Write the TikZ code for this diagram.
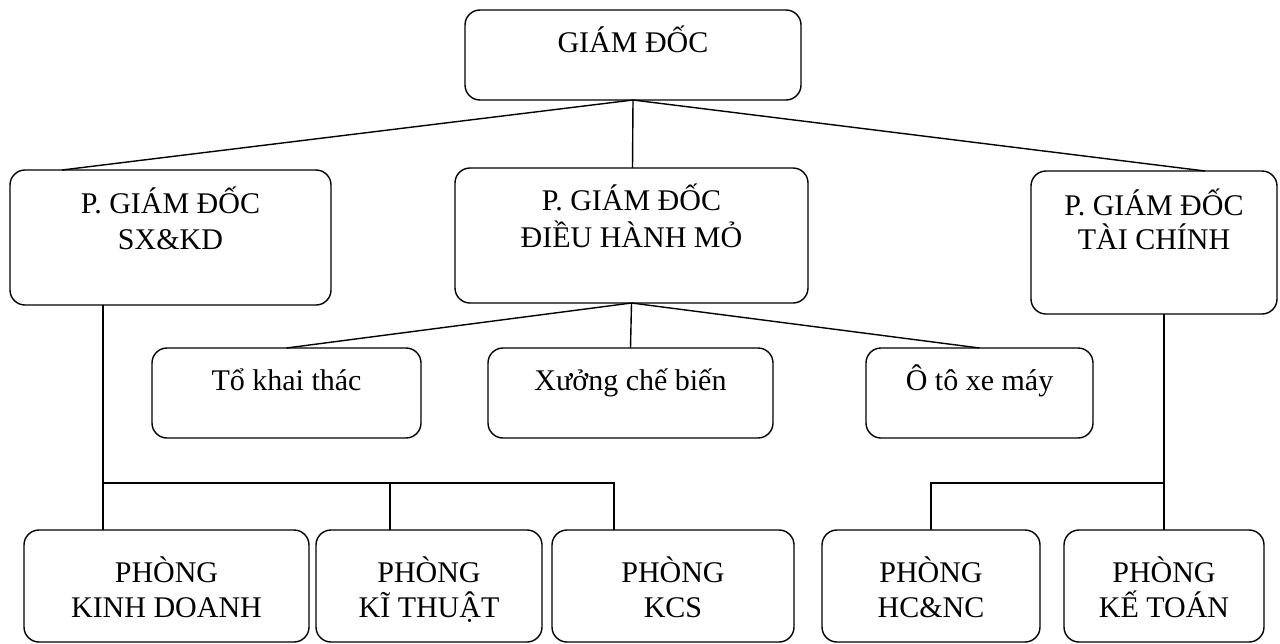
\documentclass[tikz,border=0pt]{standalone}
\usepackage{fontspec}
\setmainfont{Liberation Serif}
\usetikzlibrary{calc}
\tikzset{
  box/.style={draw=black, line width=1.4pt, rounded corners=15pt, rectangle, inner sep=0pt, outer sep=0pt, anchor=north west},
  txt/.style={anchor=base, inner sep=0pt, font=\fontsize{30}{36}\selectfont},
  conn/.style={draw=black, line width=1.4pt}
}
\begin{document}
\begin{tikzpicture}[x=1pt, y=-1pt]
\useasboundingbox (0,0) rectangle (1280,643);
% boxes
\node[box, minimum width=336pt, minimum height=90pt] (gd) at (465,10) {};
\node[box, minimum width=321pt, minimum height=135pt] (p1) at (10,170) {};
\node[box, minimum width=353pt, minimum height=135pt] (p2) at (455,168) {};
\node[box, minimum width=246pt, minimum height=143pt] (p3) at (1031,171) {};
\node[box, minimum width=269pt, minimum height=90pt] (t1) at (152,348) {};
\node[box, minimum width=285pt, minimum height=90pt] (t2) at (488,348) {};
\node[box, minimum width=227pt, minimum height=90pt] (t3) at (866,348) {};
\node[box, minimum width=285pt, minimum height=112pt] (b1) at (24,530) {};
\node[box, minimum width=226pt, minimum height=112pt] (b2) at (316,530) {};
\node[box, minimum width=242pt, minimum height=112pt] (b3) at (552,530) {};
\node[box, minimum width=218pt, minimum height=112pt] (b4) at (822,530) {};
\node[box, minimum width=200pt, minimum height=112pt] (b5) at (1064,530) {};
% texts
\node[txt] (gdT) at ($(gd.north)+(0,42)$) {GIÁM ĐỐC};
\node[txt] (p1T1) at ($(p1.north)+(0,43)$) {P. GIÁM ĐỐC};
\node[txt] (p1T2) at ($(p1.north)+(0,79)$) {SX\&KD};
\node[txt] (p2T1) at ($(p2.north)+(0,42)$) {P. GIÁM ĐỐC};
\node[txt] (p2T2) at ($(p2.north)+(0,79)$) {ĐIỀU HÀNH MỎ};
\node[txt] (p3T1) at ($(p3.north)+(0,44)$) {P. GIÁM ĐỐC};
\node[txt] (p3T2) at ($(p3.north)+(0,78)$) {TÀI CHÍNH};
\node[txt] (t1T) at ($(t1.north)+(0,42)$) {Tổ khai thác};
\node[txt] (t2T) at ($(t2.north)+(0,42)$) {Xưởng chế biến};
\node[txt] (t3T) at ($(t3.north)+(0,42)$) {Ô tô xe máy};
\node[txt] (b1T1) at ($(b1.north)+(0,52)$) {PHÒNG};
\node[txt] (b1T2) at ($(b1.north)+(0,87)$) {KINH DOANH};
\node[txt] (b2T1) at ($(b2.north)+(0,52)$) {PHÒNG};
\node[txt] (b2T2) at ($(b2.north)+(0,87)$) {KĨ THUẬT};
\node[txt] (b3T1) at ($(b3.north)+(0,52)$) {PHÒNG};
\node[txt] (b3T2) at ($(b3.north)+(0,87)$) {KCS};
\node[txt] (b4T1) at ($(b4.north)+(0,52)$) {PHÒNG};
\node[txt] (b4T2) at ($(b4.north)+(0,87)$) {HC\&NC};
\node[txt] (b5T1) at ($(b5.north)+(0,52)$) {PHÒNG};
\node[txt] (b5T2) at ($(b5.north)+(0,87)$) {KẾ TOÁN};
% connectors
\draw[conn] (gd.south) -- ($(p1.north west)+(52,0)$);
\draw[conn] (gd.south) -- ($(p2.north)+(1,0)$);
\draw[conn] (gd.south) -- ($(p3.north west)+(174,0)$);
\draw[conn] (p2.south) -- (t1.north);
\draw[conn] (p2.south) -- (t2.north);
\draw[conn] (p2.south) -- (t3.north);
\coordinate (jl) at (103,483);
\coordinate (jr) at (1164,483);
\draw[conn] ($(p1.south west)+(93,0)$) -- ($(b1.north west)+(79,0)$);
\draw[conn] (jl) -| ($(b2.north west)+(74,0)$);
\draw[conn] (jl) -| ($(b3.north west)+(62,0)$);
\draw[conn] ($(p3.south)+(10,0)$) -- (b5.north);
\draw[conn] (jr) -| (b4.north);
\end{tikzpicture}
\end{document}
